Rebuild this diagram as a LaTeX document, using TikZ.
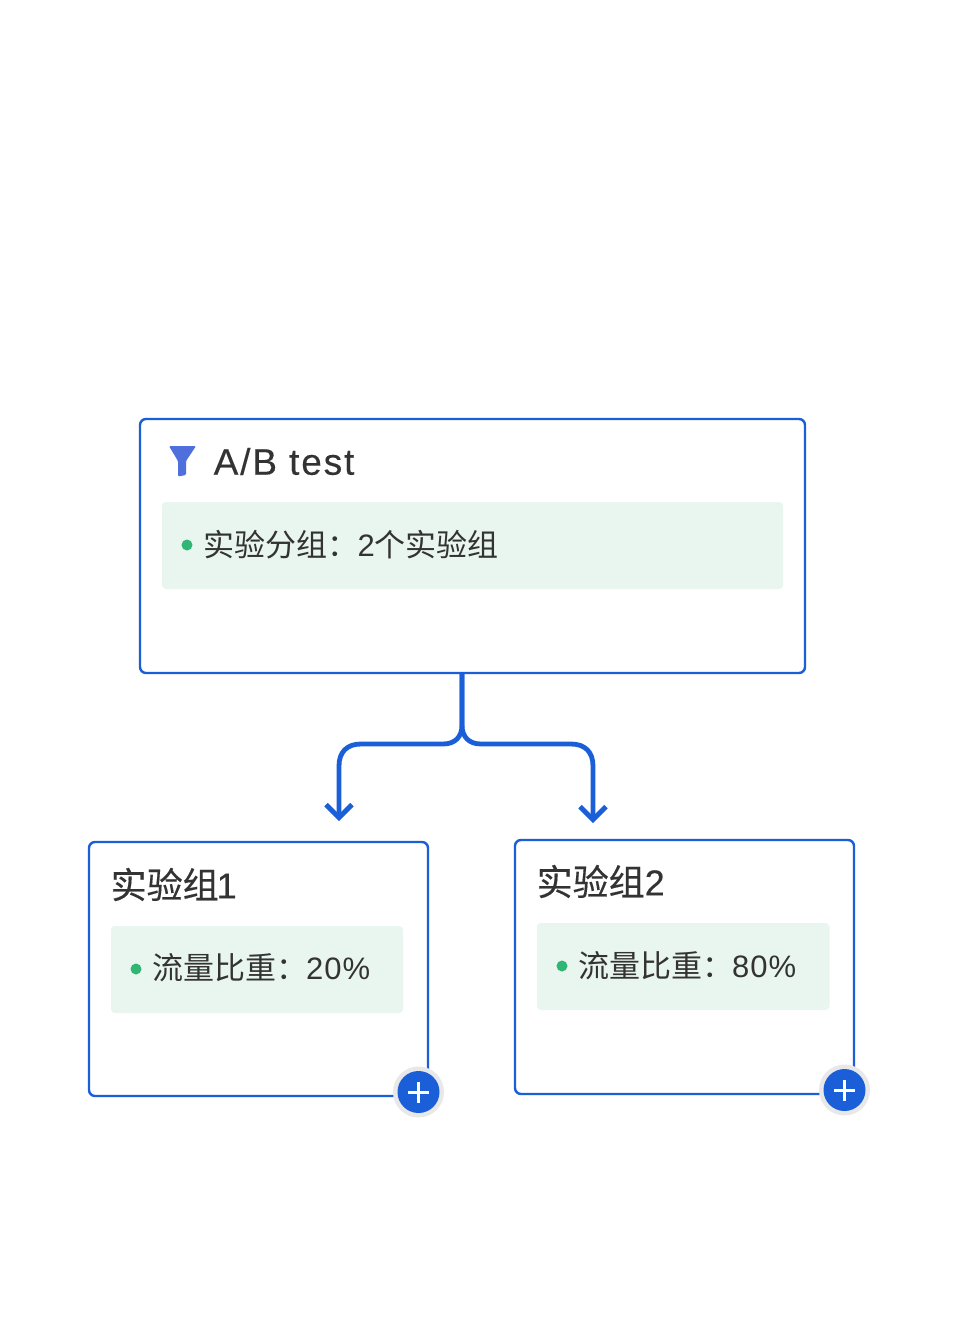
\documentclass[tikz,border=0pt]{standalone}
\usepackage{fontspec}
\setmainfont{Liberation Sans}
\newfontfamily\cjk{Noto Sans CJK SC}
\newfontfamily\cjkmed[FakeBold=0.35]{Noto Sans CJK SC}
\newfontfamily\latinmed[FakeBold=0.3,LetterSpace=5]{Liberation Sans}
\newfontfamily\latinhead[FakeBold=0.3]{Liberation Sans}
\newfontfamily\latinbody[LetterSpace=3]{Liberation Sans}
\usetikzlibrary{arrows.meta}
\definecolor{flowblue}{HTML}{1A5FD8}
\definecolor{panelgreen}{HTML}{E9F5EF}
\definecolor{dotgreen}{HTML}{2FB574}
\definecolor{inkgray}{HTML}{333333}
\definecolor{funnelblue}{HTML}{4E6FDC}
\definecolor{haloGray}{HTML}{E8E8E8}
\tikzset{
  card/.style={draw=flowblue,line width=2.4pt,fill=white,rounded corners=6pt,anchor=north west,inner sep=0pt,outer sep=0pt,minimum width=#1},
  panel/.style={fill=panelgreen,rounded corners=4pt,anchor=north west,inner sep=0pt,outer sep=0pt,minimum height=87pt,minimum width=#1},
  bulletdot/.style={circle,fill=dotgreen,minimum size=11pt,inner sep=0pt},
  bodytext/.style={anchor=west,inner sep=0pt,text=inkgray,font=\fontsize{31}{31}\selectfont},
  headtext/.style={anchor=west,inner sep=0pt,text=inkgray,font=\fontsize{36}{36}\selectfont},
  link/.style={draw=flowblue,line width=4.8pt},
  linkarrow/.style={link,-{Straight Barb[length=13pt,width=26pt,line width=4.8pt]}},
  halo/.style={circle,fill=haloGray,minimum size=51pt,inner sep=0pt},
  plusdisc/.style={circle,fill=flowblue,minimum size=42pt,inner sep=0pt},
  plusbar/.style={draw=white,line width=3pt},
}
\begin{document}
\begin{tikzpicture}[x=1pt,y=-1pt]
\useasboundingbox (0,0) rectangle (963,1320);
\fill[white] (0,0) rectangle (963,1320);

% cards
\node[card=665pt,minimum height=254pt] (top) at (140,419) {};
\node[card=339pt,minimum height=254pt] (left) at (89,842) {};
\node[card=339pt,minimum height=254pt] (right) at (515,840) {};

% panels
\node[panel=621pt] (toppanel) at (162,502) {};
\node[panel=292pt] (leftpanel) at (111,926) {};
\node[panel=292.5pt] (rightpanel) at (537,923) {};

% funnel icon
\fill[funnelblue,rounded corners=1.2pt] (169,446) -- (196,446) -- (186,461) -- (186,475) -- (178,476.5) -- (178,461) -- cycle;

% titles
\node[headtext,font=\fontsize{37}{37}\selectfont\latinmed] (toptitle) at (213.5,461.5) {A/B test};
\node[headtext] (lefttitle) at (110.5,884.5) {\cjkmed 实验组\latinhead\kern-2pt 1};
\node[headtext] (righttitle) at (536.5,881.5) {\cjkmed 实验组\latinhead 2};

% bullets
\node[bulletdot] (topdot) at (187,545) {};
\node[bulletdot] (leftdot) at (136,969) {};
\node[bulletdot] (rightdot) at (562,966) {};

% body text
\node[bodytext] (toptext) at (203.5,545) {\cjk 实验分组：\latinbody\kern-1pt 2\cjk 个实验组};
\node[bodytext] (lefttext) at (152,968) {\cjk 流量比重：\latinbody\kern-1pt 20\%};
\node[bodytext] (righttext) at (578,966) {\cjk 流量比重：\latinbody\kern-1pt 80\%};

% connectors
\coordinate (leftend) at (339,821);
\coordinate (rightend) at (593,823);
\coordinate (stemtop) at ([xshift=-10.5pt]top.south);
\draw[linkarrow] (stemtop) -- (462,725) .. controls (462,737) and (455,744) .. (443,744) -- (361,744) .. controls (347,744) and (339,752) .. (339,766) -- (leftend);
\draw[linkarrow] (stemtop) -- (462,725) .. controls (462,737) and (469,744) .. (481,744) -- (571,744) .. controls (585,744) and (593,752) .. (593,766) -- (rightend);

% add buttons
\node[halo] (lefthalo) at (418.5,1092) {};
\node[plusdisc] (leftplus) at (418.5,1092) {};
\draw[plusbar] ([xshift=-10.5pt]leftplus.center) -- ([xshift=10.5pt]leftplus.center);
\draw[plusbar] ([yshift=-10.5pt]leftplus.center) -- ([yshift=10.5pt]leftplus.center);
\node[halo] (righthalo) at (844.5,1090) {};
\node[plusdisc] (rightplus) at (844.5,1090) {};
\draw[plusbar] ([xshift=-10.5pt]rightplus.center) -- ([xshift=10.5pt]rightplus.center);
\draw[plusbar] ([yshift=-10.5pt]rightplus.center) -- ([yshift=10.5pt]rightplus.center);
\end{tikzpicture}
\end{document}
